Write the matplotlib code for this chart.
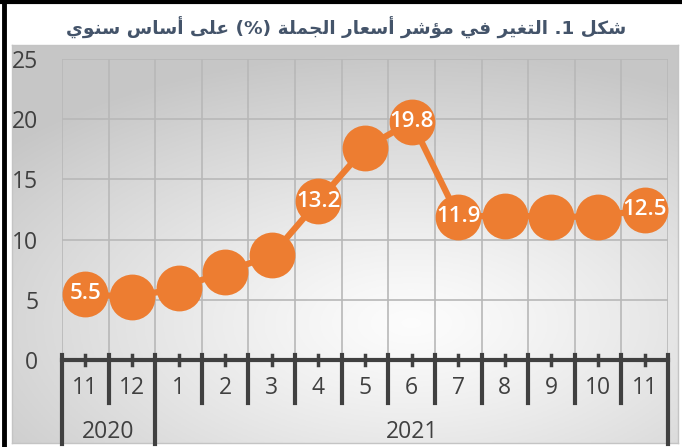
import re
import numpy as np
import matplotlib
matplotlib.use('Agg')
import matplotlib.pyplot as plt
from matplotlib.lines import Line2D

# data
months = ['11', '12', '1', '2', '3', '4', '5', '6', '7', '8', '9', '10', '11']
years = ['2020', '2021']
year_sizes = [2, 11]
values = [5.5, 5.2, 6.0, 7.3, 8.7, 13.2, 17.6, 19.8, 11.9, 12.0, 11.9, 11.9, 12.5]
labeled = [0, 5, 7, 8, 12]
title = 'شكل 1. التغير في مؤشر أسعار الجملة (%) على أساس سنوي'

orange = '#ED7D31'
dark = '#404040'

# simple arabic shaping (no reshaper lib available)
FORMS = {
    'ا': ('\uFE8D', '\uFE8E'), 'أ': ('\uFE83', '\uFE84'),
    'ر': ('\uFEAD', '\uFEAE'), 'ة': ('\uFE93', '\uFE94'),
    'و': ('\uFEED', '\uFEEE'), 'ؤ': ('\uFE85', '\uFE86'),
    'ى': ('\uFEEF', '\uFEF0'),
    'ت': ('\uFE95', '\uFE96', '\uFE97', '\uFE98'),
    'ج': ('\uFE9D', '\uFE9E', '\uFE9F', '\uFEA0'),
    'س': ('\uFEB1', '\uFEB2', '\uFEB3', '\uFEB4'),
    'ش': ('\uFEB5', '\uFEB6', '\uFEB7', '\uFEB8'),
    'ع': ('\uFEC9', '\uFECA', '\uFECB', '\uFECC'),
    'غ': ('\uFECD', '\uFECE', '\uFECF', '\uFED0'),
    'ف': ('\uFED1', '\uFED2', '\uFED3', '\uFED4'),
    'ك': ('\uFED9', '\uFEDA', '\uFEDB', '\uFEDC'),
    'ل': ('\uFEDD', '\uFEDE', '\uFEDF', '\uFEE0'),
    'م': ('\uFEE1', '\uFEE2', '\uFEE3', '\uFEE4'),
    'ن': ('\uFEE5', '\uFEE6', '\uFEE7', '\uFEE8'),
    'ي': ('\uFEF1', '\uFEF2', '\uFEF3', '\uFEF4'),
}


def shape_ar(s):
    out = []
    for i, c in enumerate(s):
        if c not in FORMS:
            out.append(c)
            continue
        prev_j = i > 0 and s[i - 1] in FORMS and len(FORMS[s[i - 1]]) == 4
        next_j = i < len(s) - 1 and s[i + 1] in FORMS and len(FORMS[c]) == 4
        f = FORMS[c]
        if prev_j and next_j:
            out.append(f[3])
        elif prev_j:
            out.append(f[1])
        elif next_j:
            out.append(f[2])
        else:
            out.append(f[0])
    shaped = ''.join(out)
    mirror = {'(': ')', ')': '('}
    toks = re.findall(r'[0-9]+|.', shaped)
    return ''.join(mirror.get(t, t) for t in reversed(toks))


plt.rcParams['font.family'] = ['Open Sans', 'DejaVu Sans']

fig = plt.figure(figsize=(6.82, 4.47), dpi=100)
W, H = 682, 447

# gray radial gradient background
bg = fig.add_axes([12 / W, (H - 443) / H, (678 - 12) / W, (443 - 45) / H])
yy, xx = np.mgrid[0:1:200j, 0:1:300j]
d = np.sqrt(((xx - 0.6) / 1.0) ** 2 + ((yy - 0.7) / 0.85) ** 2)
g = 0.99 - 0.21 * np.clip(d / 0.8, 0, 1) ** 1.2
bg.imshow(np.dstack([g, g, g]), aspect='auto', extent=[0, 1, 0, 1], origin='upper')
bg.set_xticks([])
bg.set_yticks([])
for sp in bg.spines.values():
    sp.set_color('#c4c4c4')
    sp.set_linewidth(1)

# black frame on left and top
fig.add_artist(Line2D([4 / W, 4 / W], [0, 1], color='black', lw=3.5))
fig.add_artist(Line2D([0, 1], [1 - 1.5 / H, 1 - 1.5 / H], color='black', lw=3))

ax = fig.add_axes([62 / W, (H - 360) / H, (668 - 62) / W, 301 / H], facecolor='none')
ax.set_zorder(2)
xs = np.arange(len(values)) + 0.5
ax.set_xlim(0, len(values))
ax.set_ylim(0, 25)
for sp in ax.spines.values():
    sp.set_visible(False)
ax.set_xticks(range(len(values) + 1))
ax.set_xticklabels([])
ax.set_yticks(range(0, 26, 5))
ax.tick_params(axis='x', length=0)
ax.tick_params(axis='y', length=0, pad=17, labelsize=16.5, labelcolor=dark)
ax.grid(True, color='#b8b8b8', lw=1.2)

# category axis
ax.plot([0, len(values)], [0, 0], color=dark, lw=3, clip_on=False, zorder=3)
for x in xs:
    ax.plot([x, x], [-0.4, 0.4], color=dark, lw=2.5, clip_on=False, zorder=3)
bounds = np.cumsum([0] + year_sizes)
for b in range(len(values) + 1):
    low = -6.95 if b in bounds else -3.6
    ax.plot([b, b], [0.45, low], color=dark, lw=3, clip_on=False, zorder=3)
for x, m in zip(xs, months):
    ax.text(x, -2.35, m, ha='center', va='center', fontsize=16.5, color=dark)
for i, y in enumerate(years):
    ax.text((bounds[i] + bounds[i + 1]) / 2, -5.95, y, ha='center', va='center',
            fontsize=16.5, color=dark)

# series
ax.plot(xs, values, color=orange, lw=4.5, marker='o', ms=33, mec=orange, mew=0,
        clip_on=False, zorder=4)
for i in labeled:
    ax.text(xs[i], values[i], f'{values[i]:.1f}', ha='center', va='center',
            color='white', fontsize=16, fontweight='semibold', zorder=5)

fig.text(346 / W, (H - 28) / H, shape_ar(title), ha='center', va='center',
         fontsize=13.3, fontweight='bold', color='#44546A', family='DejaVu Sans')

fig.savefig('out.png', dpi=100)
